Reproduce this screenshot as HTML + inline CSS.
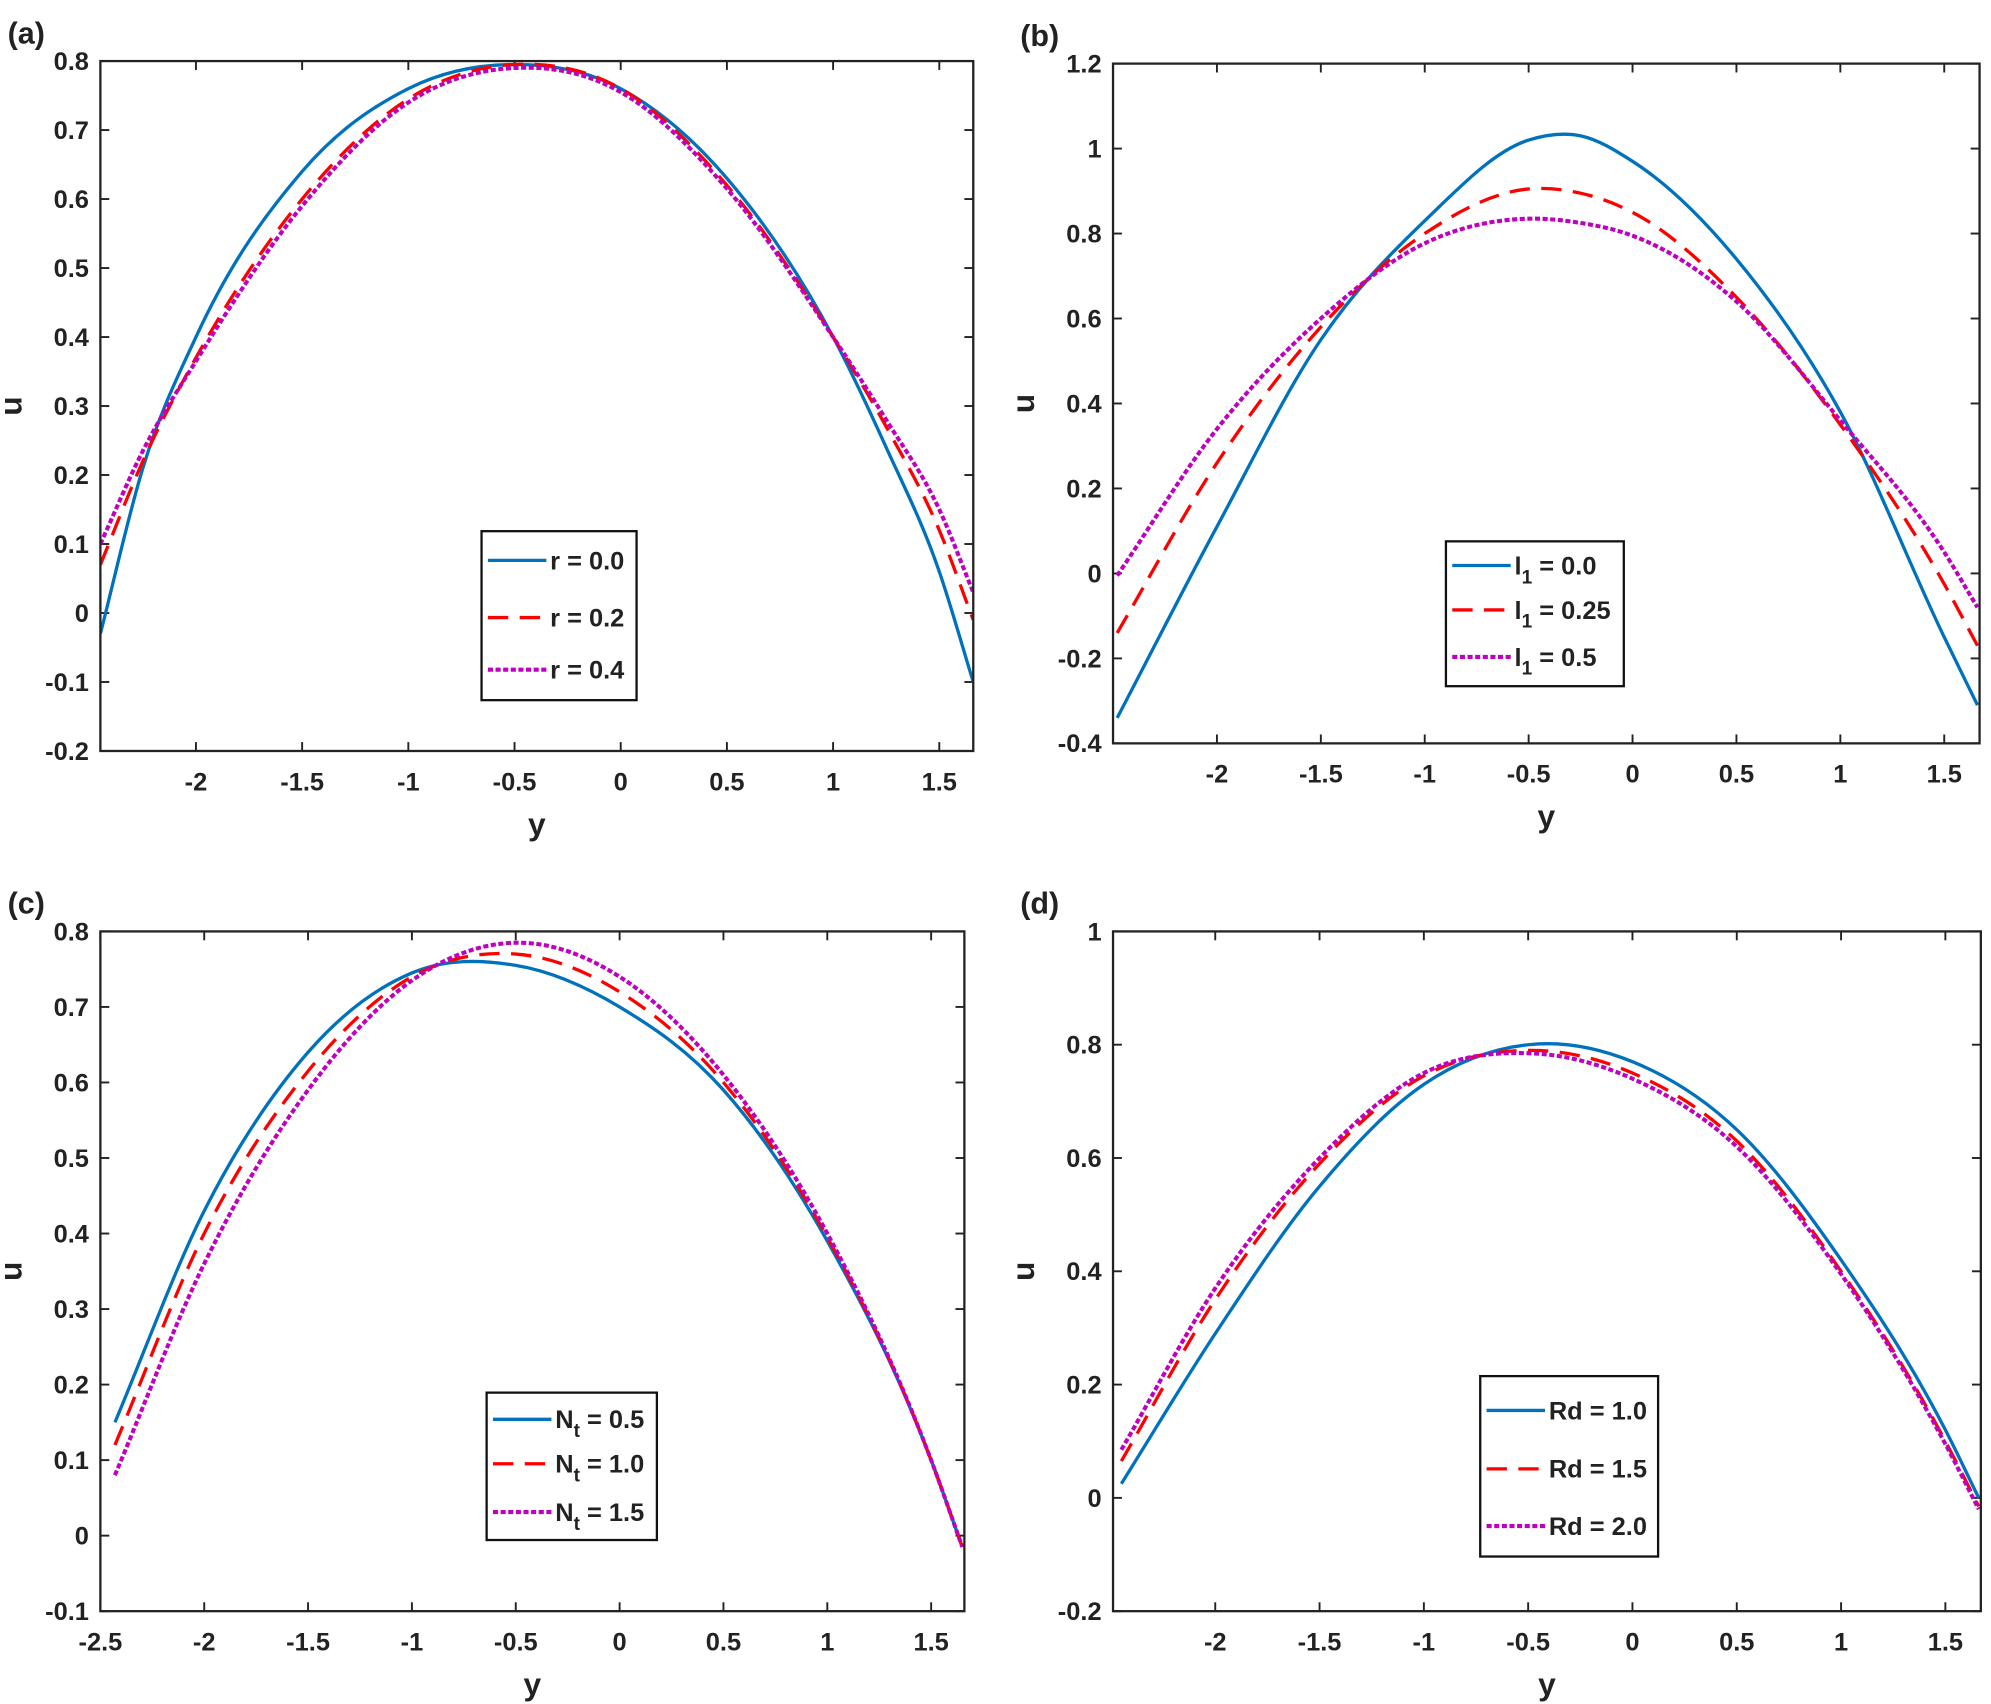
<!DOCTYPE html>
<html><head><meta charset="utf-8"><style>
html,body{margin:0;padding:0;background:#fff;}
svg{display:block;}
text{font-family:"Liberation Sans",Arial,sans-serif;font-weight:bold;fill:#222;}
</style></head><body>
<svg id="fig" width="1991" height="1704" viewBox="0 0 1567 1341" xmlns="http://www.w3.org/2000/svg"></svg>
<script>
// Panel (a)
const aX = [-2.45,-2.25,-2,-1.5,-1,-0.5,0,0.5,1,1.25,1.5,1.66];
const aR0 = [-0.03,0.21,0.40,0.64,0.76,0.795,0.76,0.63,0.40,0.24,0.06,-0.10];
const aR2 = [0.07,0.22,0.37,0.60,0.745,0.795,0.76,0.62,0.40,0.27,0.12,-0.01];
const aR4 = [0.10,0.235,0.365,0.59,0.74,0.79,0.755,0.615,0.40,0.28,0.15,0.03];
const aLabels = ["r = 0.0","r = 0.2","r = 0.4"];
// Panel (b)
const bX = [-2.48,-2,-1.5,-1,-0.5,-0.25,0,0.5,1,1.5,1.66];
const bL0 = [-0.34,0.11,0.55,0.83,1.02,1.03,0.97,0.74,0.38,-0.15,-0.31];
const bL25 = [-0.14,0.26,0.58,0.80,0.905,0.895,0.85,0.65,0.35,-0.025,-0.17];
const bL5 = [-0.005,0.34,0.60,0.777,0.835,0.825,0.795,0.64,0.36,0.05,-0.08];
// Panel (c)
const cX = [-2.43,-2,-1.5,-1,-0.5,0,0.5,1,1.5,1.65];
const cN05 = [0.15,0.43,0.64,0.745,0.755,0.70,0.59,0.39,0.10,-0.015];
const cN10 = [0.12,0.40,0.615,0.74,0.77,0.72,0.60,0.395,0.10,-0.015];
const cN15 = [0.08,0.36,0.59,0.735,0.785,0.74,0.61,0.40,0.10,-0.015];
// Panel (d)
const dX = [-2.45,-2,-1.5,-1,-0.5,0,0.5,1,1.5,1.66];
const dR10 = [0.025,0.29,0.55,0.73,0.80,0.77,0.65,0.42,0.12,0.0];
const dR15 = [0.065,0.35,0.59,0.745,0.79,0.75,0.63,0.40,0.10,-0.015];
const dR20 = [0.085,0.37,0.60,0.75,0.785,0.74,0.62,0.395,0.095,-0.02];

const xTicksA = [-2,-1.5,-1,-0.5,0,0.5,1,1.5];
const xTicksC = [-2.5,-2,-1.5,-1,-0.5,0,0.5,1,1.5];
const yTicksA = [-0.2,-0.1,0,0.1,0.2,0.3,0.4,0.5,0.6,0.7,0.8];
const yTicksB = [-0.4,-0.2,0,0.2,0.4,0.6,0.8,1,1.2];
const yTicksC = [-0.1,0,0.1,0.2,0.3,0.4,0.5,0.6,0.7,0.8];
const yTicksD = [-0.2,0,0.2,0.4,0.6,0.8,1];

const NS="http://www.w3.org/2000/svg";
const svg=document.getElementById('fig');
function mk(tag,attrs,parent){const e=document.createElementNS(NS,tag);for(const k in attrs)e.setAttribute(k,attrs[k]);(parent||svg).appendChild(e);return e;}
function fmt(v){return (Math.round(v*100)/100).toString();}
const styles=[{c:'#0072BD',d:''},{c:'#FF0000',d:'16,9'},{c:'#BF00BF',d:'4,2'}];

function smooth(pts){
  const n=pts.length, m=[];
  for(let i=0;i<n;i++){
    if(i==0) m.push((pts[1][1]-pts[0][1])/(pts[1][0]-pts[0][0]));
    else if(i==n-1) m.push((pts[n-1][1]-pts[n-2][1])/(pts[n-1][0]-pts[n-2][0]));
    else{
      const h0=pts[i][0]-pts[i-1][0],h1=pts[i+1][0]-pts[i][0];
      const d0=(pts[i][1]-pts[i-1][1])/h0,d1=(pts[i+1][1]-pts[i][1])/h1;
      m.push((d0*h1+d1*h0)/(h0+h1));
    }
  }
  let d='M'+pts[0][0]+','+pts[0][1];
  for(let i=0;i<n-1;i++){
    const h=(pts[i+1][0]-pts[i][0])/3;
    d+=' C'+(pts[i][0]+h)+','+(pts[i][1]+m[i]*h)+' '+(pts[i+1][0]-h)+','+(pts[i+1][1]-m[i+1]*h)+' '+pts[i+1][0]+','+pts[i+1][1];
  }
  return d;
}

function panel(o){
  const g=mk('g',{});
  
  
  const sx=v=>o.L+(v-o.x0)/(o.x1-o.x0)*(o.R-o.L);
  const sy=v=>o.B-(v-o.y0)/(o.y1-o.y0)*(o.B-o.T);
  const lab=mk('text',{x:o.L-73,y:o.T-14,'font-size':24},g);lab.textContent='('+o.id+')';
  
  o.xt.forEach(t=>{const x=sx(t);
    mk('line',{x1:x,x2:x,y1:o.B,y2:o.B-7,stroke:'#222','stroke-width':1.5},g);
    mk('line',{x1:x,x2:x,y1:o.T,y2:o.T+7,stroke:'#222','stroke-width':1.5},g);
    const tx=mk('text',{x:x,y:o.B+31,'font-size':20,'text-anchor':'middle'},g);tx.textContent=fmt(t);
    });
  o.yt.forEach(t=>{const y=sy(t);
    mk('line',{x1:o.L,x2:o.L+7,y1:y,y2:y,stroke:'#222','stroke-width':1.5},g);
    mk('line',{x1:o.R,x2:o.R-7,y1:y,y2:y,stroke:'#222','stroke-width':1.5},g);
    const ty=mk('text',{x:o.L-9,y:y+7,'font-size':20,'text-anchor':'end'},g);ty.textContent=fmt(t);
    });
  const xl=mk('text',{x:(o.L+o.R)/2,y:o.B+66,'font-size':25,'text-anchor':'middle'},g);xl.textContent='y';
  
  const yx=o.L-62,yy=(o.T+o.B)/2;
  const yl=mk('text',{x:yx,y:yy,'font-size':25,'text-anchor':'middle',transform:'rotate(-90 '+yx+' '+yy+')'},g);yl.textContent='u';
  
  const cp=mk('clipPath',{id:'clip'+o.id},g);mk('rect',{x:o.L,y:o.T,width:o.R-o.L,height:o.B-o.T},cp);
  o.series.forEach((s,i)=>{
    const pts=o.xs.map((x,j)=>[sx(x),sy(s[j])]);
    const p=mk('path',{d:smooth(pts),fill:'none',stroke:styles[i].c,'stroke-width':i==2?3.2:2.6,'stroke-dasharray':styles[i].d,'clip-path':'url(#clip'+o.id+')'},g);
    
  });
  const fr=mk('rect',{x:o.L,y:o.T,width:o.R-o.L,height:o.B-o.T,fill:'none',stroke:'#222','stroke-width':1.8},g);
  
  const lg=mk('g',{},g);
  
  const b=o.leg;
  mk('rect',{x:b[0],y:b[1],width:b[2]-b[0],height:b[3]-b[1],fill:'#fff',stroke:'#111','stroke-width':1.8},lg);
  b[4].forEach((yy2,i)=>{
    const en=mk('g',{},lg);
    
    mk('line',{x1:b[0]+5,x2:b[0]+51,y1:yy2,y2:yy2,stroke:styles[i].c,'stroke-width':i==2?3.2:2.6,'stroke-dasharray':styles[i].d},en);
    const t=mk('text',{x:b[0]+54,y:yy2+7,'font-size':20},en);
    if(o.sub){t.innerHTML=o.sub[0]+'<tspan dy="7" font-size="15">'+o.sub[1]+'</tspan><tspan dy="-7"> = '+o.labels[i]+'</tspan>';}
    else t.textContent=o.labels[i];
  });
}

panel({id:'a',L:79,R:766,T:48,B:591,x0:-2.45,x1:1.66,y0:-0.2,y1:0.8,xt:xTicksA,yt:yTicksA,xs:aX,series:[aR0,aR2,aR4],labels:aLabels,leg:[379,418,501,551,[441,486,527]]});
panel({id:'b',L:876,R:1558,T:50,B:585,x0:-2.5,x1:1.67,y0:-0.4,y1:1.2,xt:xTicksA,yt:yTicksB,xs:bX,series:[bL0,bL25,bL5],labels:['0.0','0.25','0.5'],sub:['l','1'],leg:[1138,426,1278,540,[445,480,517]]});
panel({id:'c',L:79,R:759,T:733,B:1268,x0:-2.5,x1:1.66,y0:-0.1,y1:0.8,xt:xTicksC,yt:yTicksC,xs:cX,series:[cN05,cN10,cN15],labels:['0.5','1.0','1.5'],sub:['N','t'],leg:[383,1096,517,1212,[1117,1152,1190]]});
panel({id:'d',L:876,R:1559,T:733,B:1268,x0:-2.49,x1:1.67,y0:-0.2,y1:1,xt:xTicksA,yt:yTicksD,xs:dX,series:[dR10,dR15,dR20],labels:['Rd = 1.0','Rd = 1.5','Rd = 2.0'],leg:[1165,1083,1305,1225,[1110,1156,1201]]});
</script>
</body></html>
